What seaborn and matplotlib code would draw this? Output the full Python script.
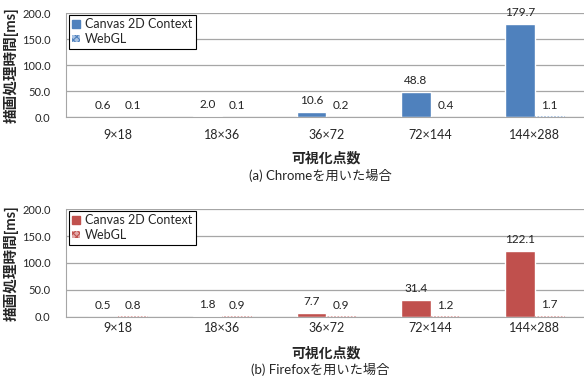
import numpy as np
import pandas as pd
import seaborn as sns
import matplotlib.pyplot as plt
from matplotlib.patches import Patch

# values
sizes = ['9×18', '18×36', '36×72', '72×144', '144×288']
series = ['Canvas 2D Context', 'WebGL']
chrome_canvas = [0.6, 2.0, 10.6, 48.8, 179.7]
chrome_webgl = [0.1, 0.1, 0.2, 0.4, 1.1]
firefox_canvas = [0.5, 1.8, 7.7, 31.4, 122.1]
firefox_webgl = [0.8, 0.9, 0.9, 1.2, 1.7]
yticks = [0, 50, 100, 150, 200]

sns.set_style('white')
plt.rcParams['font.family'] = ['Lato', 'Noto Sans CJK JP', 'DejaVu Sans']
plt.rcParams['hatch.linewidth'] = 0.8


def make_df(canvas, webgl):
    return pd.DataFrame({
        'size': sizes * 2,
        'series': [series[0]] * len(sizes) + [series[1]] * len(sizes),
        'ms': canvas + webgl,
    })


def draw_panel(ax, df, main, light, tickpad):
    sns.barplot(data=df, x='size', y='ms', hue='series', order=sizes,
                hue_order=series, palette=[main, light], width=0.57,
                saturation=1, legend=False, ax=ax)
    # WebGL bars are drawn with a dotted fill
    for bar in ax.containers[1]:
        bar.set_facecolor('white')
        bar.set_edgecolor(light)
        bar.set_hatch('.....')
        bar.set_linewidth(0)
    for cont in ax.containers:
        ax.bar_label(cont, fmt='%.1f', padding=4, fontsize=8.5, color='#222222')
    ax.set_ylim(0, 200)
    ax.set_xlim(-0.5, 4.5)
    ax.set_yticks(yticks)
    ax.set_yticklabels(['%.1f' % v for v in yticks])
    ax.grid(axis='y', color='#a6a6a6', linewidth=0.9)
    ax.set_axisbelow(True)
    for s in ['top', 'right']:
        ax.spines[s].set_visible(False)
    for s in ['left', 'bottom']:
        ax.spines[s].set_color('#a6a6a6')
    ax.tick_params(axis='y', length=3, color='#a6a6a6', labelsize=8, pad=8)
    ax.tick_params(axis='x', length=0, labelsize=9, pad=tickpad)
    ax.set_ylabel('描画処理時間[ms]', fontsize=10.5, fontweight='bold')
    ax.yaxis.set_label_coords(-0.09, 0.5)
    ax.set_xlabel('可視化点数', fontsize=10, fontweight='bold')
    handles = [Patch(facecolor=main, edgecolor=main, label=series[0]),
               Patch(facecolor=light, edgecolor=main, hatch='xxxxx', linewidth=0, label=series[1])]
    leg = ax.legend(handles=handles, loc='upper left', bbox_to_anchor=(0.005, 0.985),
                    fontsize=9, frameon=True, fancybox=False, framealpha=1,
                    edgecolor='black', handlelength=0.6, handleheight=0.6,
                    handletextpad=0.4, borderpad=0.3, labelspacing=0.2,
                    borderaxespad=0)
    leg.get_frame().set_linewidth(0.8)


fig = plt.figure(figsize=(5.84, 3.85), dpi=100)
ax1 = fig.add_axes([0.113, 0.696, 0.892, 0.270])
ax2 = fig.add_axes([0.113, 0.177, 0.892, 0.280])

draw_panel(ax1, make_df(chrome_canvas, chrome_webgl), '#4f81bd', '#a9c3e3', 8.5)
ax1.xaxis.set_label_coords(0.5, -0.33)
fig.text(0.548, 1 - 176 / 385, '(a) Chromeを用いた場合', ha='center', va='center', fontsize=9.5)

draw_panel(ax2, make_df(firefox_canvas, firefox_webgl), '#c0504d', '#e3a9a8', 4)
ax2.xaxis.set_label_coords(0.5, -0.27)
fig.text(0.548, 1 - 369 / 385, '(b) Firefoxを用いた場合', ha='center', va='center', fontsize=9.5)

fig.savefig('out.png', dpi=100)
